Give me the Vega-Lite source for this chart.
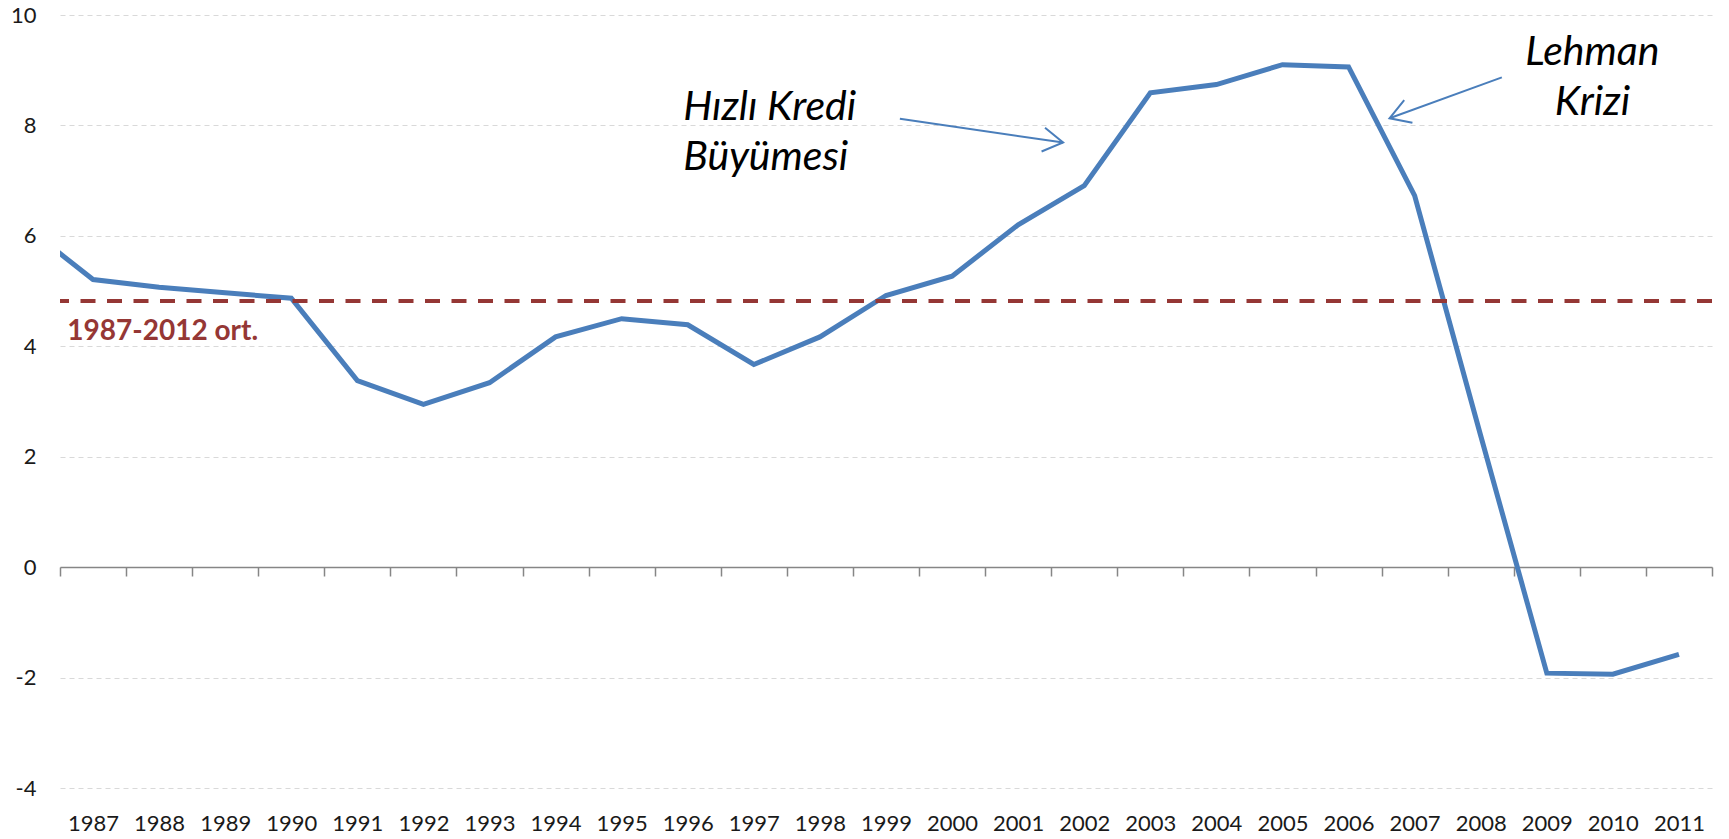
{
  "$schema": "https://vega.github.io/schema/vega-lite/v6.json",
  "width": 1652,
  "height": 773,
  "autosize": {"type": "none"},
  "padding": {"left": 60, "top": 15, "right": 17, "bottom": 51},
  "background": "white",
  "config": {"view": {"stroke": null}, "font": "Lato"},
  "datasets": {
    "series": [
      {"year": 1986, "value": 6.15},
      {"year": 1987, "value": 5.21},
      {"year": 1988, "value": 5.07},
      {"year": 1989, "value": 4.97},
      {"year": 1990, "value": 4.87},
      {"year": 1991, "value": 3.38},
      {"year": 1992, "value": 2.95},
      {"year": 1993, "value": 3.34},
      {"year": 1994, "value": 4.17},
      {"year": 1995, "value": 4.5},
      {"year": 1996, "value": 4.39},
      {"year": 1997, "value": 3.67},
      {"year": 1998, "value": 4.17},
      {"year": 1999, "value": 4.92},
      {"year": 2000, "value": 5.27},
      {"year": 2001, "value": 6.2},
      {"year": 2002, "value": 6.91},
      {"year": 2003, "value": 8.59},
      {"year": 2004, "value": 8.74},
      {"year": 2005, "value": 9.1},
      {"year": 2006, "value": 9.06},
      {"year": 2007, "value": 6.73},
      {"year": 2008, "value": 2.38},
      {"year": 2009, "value": -1.92},
      {"year": 2010, "value": -1.94},
      {"year": 2011, "value": -1.58}
    ],
    "arrows": [
      {"name": "kredi", "x": 1999.21, "y": 8.12, "x2": 2001.68, "y2": 7.69},
      {"name": "lehman", "x": 2008.32, "y": 8.87, "x2": 2006.62, "y2": 8.13}
    ],
    "labels": [
      {"name": "kredi", "x": 1995.93, "y": 8.1, "text": "Hızlı Kredi\nBüyümesi"},
      {"name": "lehman", "x": 2009.69, "y": 9.1, "text": "Lehman\nKrizi"},
      {"name": "avg", "x": 1986.61, "y": 4.26, "text": "1987-2012 ort."}
    ],
    "avg": [{"value": 4.82}]
  },
  "resolve": {"axis": {"x": "independent"}},
  "layer": [
    {
      "data": {"name": "series"},
      "mark": {"type": "line", "color": "#4a7ebb", "strokeWidth": 5, "clip": true, "strokeJoin": "miter"},
      "encoding": {
        "x": {
          "field": "year", "type": "quantitative",
          "scale": {"domain": [1986.5, 2011.5], "nice": false, "zero": false},
          "axis": {
            "title": null,
            "orient": "bottom",
            "values": [1986.5, 1987.5, 1988.5, 1989.5, 1990.5, 1991.5, 1992.5, 1993.5, 1994.5, 1995.5, 1996.5, 1997.5, 1998.5, 1999.5, 2000.5, 2001.5, 2002.5, 2003.5, 2004.5, 2005.5, 2006.5, 2007.5, 2008.5, 2009.5, 2010.5],
            "labelExpr": "format(datum.value + 0.5, 'd')",
            "labelOffset": 33,
            "ticks": false, "domain": false, "grid": false,
            "labelFont": "Lato", "labelFontSize": 22, "labelColor": "#1a1a1a",
            "labelPadding": 25, "labelFlush": false, "labelOverlap": false
          }
        },
        "y": {
          "field": "value", "type": "quantitative",
          "scale": {"domain": [-4, 10], "nice": false, "zero": false},
          "axis": {
            "title": null,
            "values": [-4, -2, 0, 2, 4, 6, 8, 10],
            "labelExpr": "'' + datum.value",
            "grid": true, "gridColor": "#d9d9d9", "gridDash": [5, 4], "gridWidth": 1.2,
            "domain": false, "ticks": false,
            "labelFont": "Lato", "labelFontSize": 22, "labelColor": "#1a1a1a",
            "labelPadding": 24, "labelFlush": false, "labelOverlap": false
          }
        }
      }
    },
    {
      "data": {"name": "avg"},
      "mark": {"type": "rule", "color": "#953735", "strokeWidth": 4, "strokeDash": [15, 11.5]},
      "encoding": {
        "y": {"field": "value", "type": "quantitative", "title": null}
      }
    },
    {
      "data": {"name": "arrows"},
      "mark": {"type": "rule", "color": "#4a7ebb", "strokeWidth": 2},
      "encoding": {
        "x": {
          "field": "x", "type": "quantitative",
          "axis": {
            "title": null,
            "orient": "bottom",
            "values": [1986.5, 1987.5, 1988.5, 1989.5, 1990.5, 1991.5, 1992.5, 1993.5, 1994.5, 1995.5, 1996.5, 1997.5, 1998.5, 1999.5, 2000.5, 2001.5, 2002.5, 2003.5, 2004.5, 2005.5, 2006.5, 2007.5, 2008.5, 2009.5, 2010.5, 2011.5],
            "labels": false, "grid": false,
            "ticks": true, "tickSize": 9, "tickColor": "#868686", "tickWidth": 1.5,
            "domain": true, "domainColor": "#868686", "domainWidth": 1.5,
            "offset": -221
          }
        },
        "x2": {"field": "x2"},
        "y": {"field": "y", "type": "quantitative", "title": null},
        "y2": {"field": "y2"}
      }
    },
    {
      "data": {"name": "arrows"},
      "transform": [{"filter": "datum.name === 'kredi'"}],
      "mark": {"type": "point", "shape": "M-1,-0.6L0,0L-1,0.6", "filled": false, "stroke": "#4a7ebb", "strokeWidth": 2, "size": 1600, "opacity": 1, "angle": 8.3},
      "encoding": {
        "x": {"field": "x2", "type": "quantitative", "axis": null},
        "y": {"field": "y2", "type": "quantitative", "title": null}
      }
    },
    {
      "data": {"name": "arrows"},
      "transform": [{"filter": "datum.name === 'lehman'"}],
      "mark": {"type": "point", "shape": "M-1,-0.6L0,0L-1,0.6", "filled": false, "stroke": "#4a7ebb", "strokeWidth": 2, "size": 1600, "opacity": 1, "angle": 160},
      "encoding": {
        "x": {"field": "x2", "type": "quantitative", "axis": null},
        "y": {"field": "y2", "type": "quantitative", "title": null}
      }
    },
    {
      "data": {"name": "labels"},
      "transform": [{"filter": "datum.name === 'kredi'"}],
      "mark": {"type": "text", "font": "Lato", "fontStyle": "italic", "fontSize": 41, "align": "left", "baseline": "alphabetic", "lineBreak": "\n", "lineHeight": 50, "color": "#000000"},
      "encoding": {
        "x": {"field": "x", "type": "quantitative", "axis": null},
        "y": {"field": "y", "type": "quantitative", "title": null},
        "text": {"field": "text"}
      }
    },
    {
      "data": {"name": "labels"},
      "transform": [{"filter": "datum.name === 'lehman'"}],
      "mark": {"type": "text", "font": "Lato", "fontStyle": "italic", "fontSize": 41, "align": "center", "baseline": "alphabetic", "lineBreak": "\n", "lineHeight": 50, "color": "#000000"},
      "encoding": {
        "x": {"field": "x", "type": "quantitative", "axis": null},
        "y": {"field": "y", "type": "quantitative", "title": null},
        "text": {"field": "text"}
      }
    },
    {
      "data": {"name": "labels"},
      "transform": [{"filter": "datum.name === 'avg'"}],
      "mark": {"type": "text", "font": "Lato", "fontWeight": "bold", "fontSize": 28, "align": "left", "baseline": "middle", "color": "#953735"},
      "encoding": {
        "x": {"field": "x", "type": "quantitative", "axis": null},
        "y": {"field": "y", "type": "quantitative", "title": null},
        "text": {"field": "text"}
      }
    }
  ]
}
